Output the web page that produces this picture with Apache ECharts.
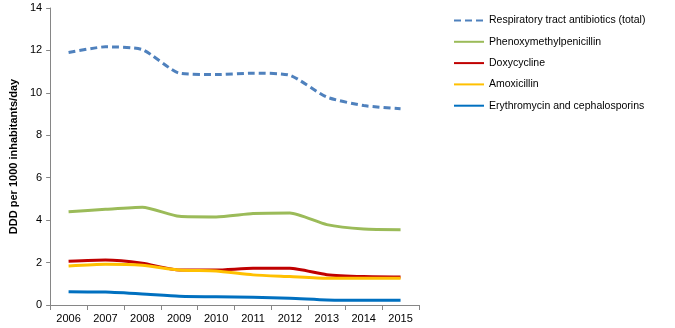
<!DOCTYPE html>
<html><head><meta charset="utf-8">
<script src="https://cdn.jsdelivr.net/npm/echarts@6/dist/echarts.min.js"></script>
<style>html,body{margin:0;padding:0;background:#fff}#c{width:675px;height:328px}</style>
</head><body><div id="c"></div>
<script>
const years = ['2006','2007','2008','2009','2010','2011','2012','2013','2014','2015'];
const total = [11.9, 12.17, 12.04, 10.93, 10.86, 10.93, 10.83, 9.8, 9.4, 9.25];
const phenoxy = [4.39, 4.51, 4.61, 4.18, 4.15, 4.31, 4.34, 3.79, 3.58, 3.55];
const doxy = [2.06, 2.12, 1.97, 1.65, 1.65, 1.73, 1.73, 1.43, 1.34, 1.32];
const amox = [1.84, 1.92, 1.87, 1.65, 1.60, 1.42, 1.34, 1.26, 1.26, 1.26];
const erythro = [0.63, 0.61, 0.52, 0.41, 0.39, 0.36, 0.32, 0.24, 0.22, 0.22];
const yTicks = [0, 2, 4, 6, 8, 10, 12, 14];

const font = 'Liberation Sans';
function s(name, data, color, dashed) {
  return {name, type:'line', data, smooth:0.2, symbol:'none',
    lineStyle:{color, width:3, type: dashed ? [7,4] : 'solid'},
    itemStyle:{color}};
}
const chart = echarts.init(document.getElementById('c'));
chart.setOption({
  animation:false,
  grid:{left:44, right:256, top:8, bottom:23},
  legend:{orient:'vertical', left:448, top:10, itemWidth:30, itemHeight:4, itemGap:10.3,
    itemStyle:{opacity:0},
    textStyle:{fontFamily:font, fontSize:10.5, color:'#000'},
    data:['Respiratory tract antibiotics (total)','Phenoxymethylpenicillin','Doxycycline','Amoxicillin','Erythromycin and cephalosporins']},
  xAxis:{type:'category', data:years, boundaryGap:true,
    axisLine:{lineStyle:{color:'#868686'}},
    axisTick:{show:true, interval:0, length:5, lineStyle:{color:'#868686'}},
    axisLabel:{fontFamily:font, fontSize:11, color:'#000', margin:8}},
  yAxis:{type:'value', min:yTicks[0], max:yTicks[yTicks.length-1], interval:2,
    name:'DDD per 1000 inhabitants/day', nameLocation:'middle', nameGap:26,
    nameTextStyle:{fontFamily:font, fontSize:11, fontWeight:'bold', color:'#000'},
    axisLine:{show:true, lineStyle:{color:'#868686'}},
    axisTick:{show:true, length:4, lineStyle:{color:'#868686'}},
    splitLine:{show:false},
    axisLabel:{fontFamily:font, fontSize:11, color:'#000', margin:8}},
  series:[
    s('Respiratory tract antibiotics (total)', total, '#4F81BD', true),
    s('Phenoxymethylpenicillin', phenoxy, '#9BBB59'),
    s('Doxycycline', doxy, '#C00000'),
    s('Amoxicillin', amox, '#FFC000'),
    s('Erythromycin and cephalosporins', erythro, '#0070C0')
  ]
});
</script></body></html>
